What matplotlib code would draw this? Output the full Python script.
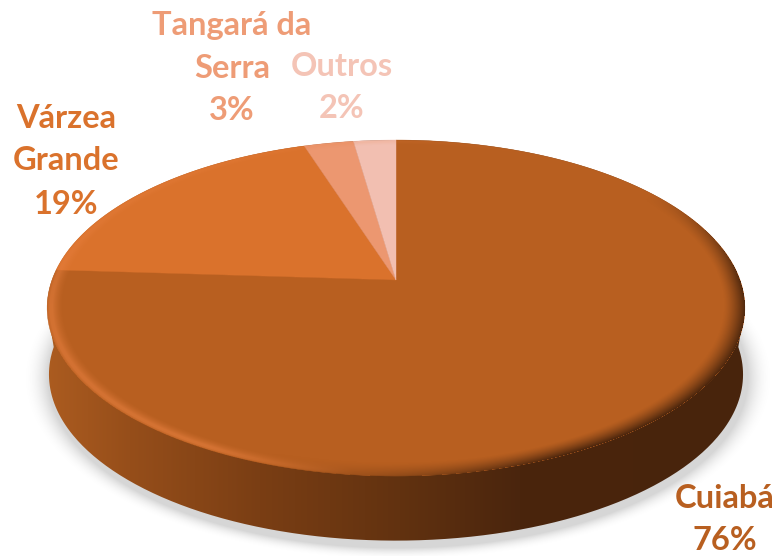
import numpy as np
import matplotlib
matplotlib.use('Agg')
import matplotlib.pyplot as plt
from matplotlib.patches import PathPatch
from matplotlib.path import Path

categories = ['Cuiabá', 'Várzea\nGrande', 'Tangará da\nSerra', 'Outros']
values = [76, 19, 2.7, 2.3]
percent_labels = ['76%', '19%', '3%', '2%']
slice_colors = ['#B85F20', '#DA722C', '#EC9770', '#F2BFB1']
label_colors = ['#B85F20', '#DA722C', '#EE9C76', '#F4C4B6']
label_pos = [(725, 498), (66, 118), (232, 25), (342, 66)]   # first line of each label

W, H = 781, 556
CX, CY = 396, 280   # pie centre on screen
A, B, K = 344, 163.3, 0.1667   # perspective of the disc
WALL = 67
LINE_STEP = 43


# unit disc -> screen pixels
def project(x, y, dy=0):
    d = 1 + K * y
    return CX + A * x / d, CY - B * y / d + dy


# screen pixels -> position in the disc
def disc_coords(px, py):
    u = (px - CX) / A
    v = -(py - CY) / B
    y = v / (1 - K * v)
    x = u * (1 + K * y)
    return x, y


fig = plt.figure(figsize=(W / 100, H / 100), dpi=100)
ax = fig.add_axes([0, 0, 1, 1])
ax.set_axis_off()
xx, yy = np.meshgrid(np.arange(W) + 0.5, np.arange(H) + 0.5)

# soft shadow under the side wall
r_sh = np.sqrt(((xx - 398) / 350) ** 2 + ((yy - 378) / 170) ** 2)
shadow = np.zeros((H, W, 4))
shadow[..., :3] = 0.6
shadow[..., 3] = 0.4 * np.clip((1.07 - r_sh) / 0.07, 0, 1) ** 2
ax.imshow(shadow, extent=(0, W, H, 0), aspect='auto', zorder=1)

# side wall, gradient from left to right
t = np.linspace(np.pi, 2 * np.pi, 300)
bx, by = project(np.cos(t) * 0.995, np.sin(t) * 0.99, WALL)
t_side = np.linspace(-0.17, np.pi + 0.17, 400)
sx, sy = project(np.cos(t_side), np.sin(t_side))
wall_x = np.r_[bx, bx[-1], sx, bx[0]]
wall_y = np.r_[by, by[-1], sy, by[0]]
wall_path = Path(np.column_stack([wall_x, wall_y]))

stops_x = [46, 130, 260, 400, 520, 745]
stops_c = np.array([[172, 92, 32], [150, 78, 26], [122, 62, 20], [98, 50, 16], [74, 37, 13], [72, 36, 12]]) / 255
grad = np.stack([np.interp(xx, stops_x, stops_c[:, i]) for i in range(3)], axis=-1)
im = ax.imshow(grad, extent=(0, W, H, 0), aspect='auto', zorder=2)
clip = PathPatch(wall_path, transform=ax.transData, fc='none', ec='none')
ax.add_patch(clip)
im.set_clip_path(clip)

# top slices, clockwise from 12 o'clock
edges = np.r_[0, np.cumsum(values)] / np.sum(values) * 2 * np.pi
for i in range(len(values)):
    th = np.linspace(edges[i], edges[i + 1], 200)
    x, y = project(np.sin(th), np.cos(th))
    ax.fill(np.r_[CX, x], np.r_[CY, y], color=slice_colors[i], lw=0.3, zorder=3)

# bevel on the rim: light on lower left, wall colour fading in on lower right
rx, ry = disc_coords(xx, yy)
r = np.sqrt(rx ** 2 + ry ** 2)
deg = np.degrees(np.arctan2(ry, rx))
deg = np.where(deg > 60, deg - 360, deg)
light = np.interp(deg, [-300, -200, -170, -118, -96], [0, 0.5, 0.8, 0.85, 0])
dark = np.interp(deg, [-110, -65, 0, 35], [0.0, 1, 0.9, 0])
inside = r <= 1.0
band = np.clip((r - 0.955) / 0.03, 0, 1) ** 1.5 * np.clip((1.0 - r) / 0.012 + 0.35, 0, 1)
al = 0.7 * light * band * inside
ad = dark * np.clip((r - 0.94) / 0.06, 0, 1) ** 1.4 * inside
a_out = al + ad * (1 - al)
lit = np.array([232, 128, 64]) / 255
bevel = np.zeros((H, W, 4))
bevel[..., :3] = (lit * al[..., None] + grad * (ad * (1 - al))[..., None]) / np.maximum(a_out, 1e-6)[..., None]
bevel[..., 3] = a_out
ax.imshow(bevel, extent=(0, W, H, 0), aspect='auto', zorder=4)

# labels, one text per line
for i in range(len(categories)):
    lines = categories[i].split('\n') + [percent_labels[i]]
    for j, line in enumerate(lines):
        ax.text(label_pos[i][0], label_pos[i][1] + j * LINE_STEP, line,
                color=label_colors[i], fontsize=23.5, fontweight='bold', family='Lato',
                ha='center', va='center', zorder=5)

ax.set_xlim(0, W)
ax.set_ylim(H, 0)
fig.savefig('out.png', dpi=100)
